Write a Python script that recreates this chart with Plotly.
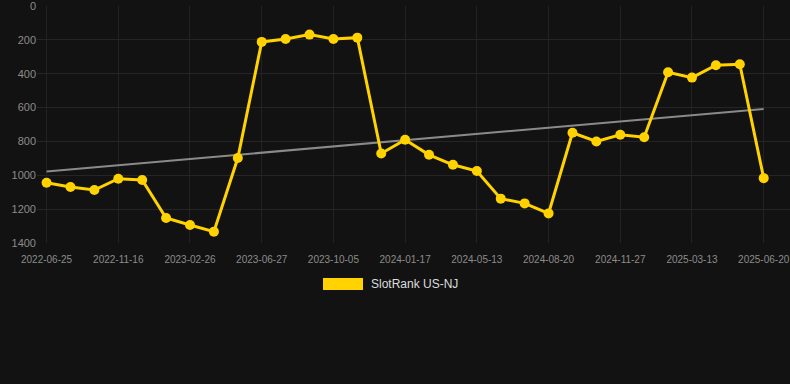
import numpy as np
import plotly.graph_objects as go

dates = ["2022-06-25", "2022-08-12", "2022-09-29", "2022-11-16", "2022-12-20", "2023-01-23",
         "2023-02-26", "2023-04-07", "2023-05-17", "2023-06-27", "2023-08-02", "2023-09-08",
         "2023-10-05", "2023-11-08", "2023-12-13", "2024-01-17", "2024-02-24", "2024-04-03",
         "2024-05-13", "2024-06-14", "2024-07-18", "2024-08-20", "2024-09-22", "2024-10-25",
         "2024-11-27", "2024-12-31", "2025-02-05", "2025-03-13", "2025-04-15", "2025-05-18",
         "2025-06-20"]
rank = [1044, 1069, 1087, 1020, 1028, 1252, 1294, 1333, 898, 212, 195, 169, 195, 187, 871,
        790, 879, 938, 975, 1138, 1166, 1225, 749, 800, 761, 775, 391, 423, 350, 344, 1017]
tick_labels = dates[::3]
y_ticks = [0, 200, 400, 600, 800, 1000, 1200, 1400]
series_name = "SlotRank US-NJ"

gold = "#FFD200"
bg = "#121212"

idx = np.arange(len(rank))
slope, intercept = np.polyfit(idx, rank, 1)
trend = [intercept, intercept + slope * idx[-1]]

fig = go.Figure()
fig.add_trace(go.Scatter(x=[dates[0], dates[-1]], y=trend, mode="lines",
                         line=dict(color="#8a8a8a", width=2), showlegend=False, hoverinfo="skip"))
fig.add_trace(go.Scatter(x=dates, y=rank, mode="lines+markers", name=series_name,
                         line=dict(color=gold, width=3), marker=dict(color=gold, size=10),
                         showlegend=False))

# legend swatch + label
fig.add_shape(type="rect", xref="paper", yref="paper",
              x0=(323 - 37) / 753, x1=(363 - 37) / 753,
              y0=-(290 - 243) / 237, y1=-(278 - 243) / 237,
              fillcolor=gold, line=dict(width=0))
fig.add_annotation(xref="paper", yref="paper", x=(369 - 37) / 753, y=-(284 - 243) / 237,
                   text=series_name, showarrow=False, xanchor="left", yanchor="middle",
                   font=dict(family="Liberation Sans, Arial, sans-serif", size=12, color="#dddddd"))

fig.update_layout(
    width=790, height=384,
    margin=dict(l=37, r=0, t=6, b=141),
    paper_bgcolor=bg, plot_bgcolor=bg,
    font=dict(family="Liberation Sans, Arial, sans-serif", color="#8c8c8c"),
    showlegend=False,
    xaxis=dict(type="category", categoryorder="array", categoryarray=dates,
               range=[-0.4, 31.1], tickvals=tick_labels, ticktext=tick_labels,
               showgrid=True, gridcolor="#222222", gridwidth=1, zeroline=False, showline=False,
               ticks="", ticklabelstandoff=9, tickfont=dict(size=10, color="#8c8c8c")),
    yaxis=dict(range=[1400, 0], autorange=False, tickmode="array", tickvals=y_ticks,
               ticktext=[str(v) for v in y_ticks], ticklabeloverflow="allow",
               showgrid=True, gridcolor="#252525",
               zeroline=False, showline=False, ticks="",
               tickfont=dict(size=11, color="#8c8c8c")),
)

fig.write_html("out.html", config={"displayModeBar": False},
               post_script="document.body.style.margin='0';document.body.style.background='#121212';")
